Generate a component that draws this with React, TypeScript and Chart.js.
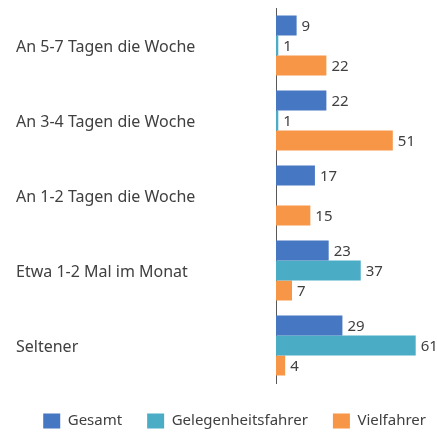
import React, { useEffect, useRef } from "react";
import { Chart, registerables } from "chart.js";

Chart.register(...registerables);

const categories = [
  "An 5-7 Tagen die Woche",
  "An 3-4 Tagen die Woche",
  "An 1-2 Tagen die Woche",
  "Etwa 1-2 Mal im Monat",
  "Seltener",
];
const seriesNames = ["Gesamt", "Gelegenheitsfahrer", "Vielfahrer"];
const gesamt = [9, 22, 17, 23, 29];
const gelegenheitsfahrer: (number | null)[] = [1, 1, null, 37, 61];
const vielfahrer = [22, 51, 15, 7, 4];
const colors = ["#4677C2", "#4BACC6", "#F79646"];

const FONT = "'Noto Sans', 'Open Sans', sans-serif";
const TEXT = "#404040";

const valueLabels = {
  id: "valueLabels",
  afterDatasetsDraw(chart: any) {
    const ctx = chart.ctx;
    ctx.save();
    ctx.font = `15px ${FONT}`;
    ctx.fillStyle = TEXT;
    ctx.textAlign = "left";
    ctx.textBaseline = "middle";
    chart.data.datasets.forEach((ds: any, i: number) => {
      const meta = chart.getDatasetMeta(i);
      meta.data.forEach((el: any, j: number) => {
        const v = ds.data[j];
        if (v === null || v === undefined) return;
        ctx.fillText(String(v), el.x + 5, el.y + 1);
      });
    });
    ctx.restore();
  },
};

export default function App() {
  const ref = useRef<HTMLCanvasElement>(null);
  useEffect(() => {
    if (!ref.current) return;
    const chart = new Chart(ref.current, {
      type: "bar",
      data: {
        labels: categories,
        datasets: [gesamt, gelegenheitsfahrer, vielfahrer].map((d, i) => ({
          label: seriesNames[i],
          data: d as any,
          backgroundColor: colors[i],
          borderWidth: 0,
          categoryPercentage: 0.8,
          barPercentage: 1.0,
        })),
      },
      options: {
        indexAxis: "y",
        animation: false,
        responsive: false,
        layout: { padding: { left: 16, right: -14, top: 8, bottom: -3.5 } },
        scales: {
          x: {
            display: true,
            min: 0,
            max: 70.3,
            grid: { display: false },
            border: { display: false },
            ticks: { display: false },
            afterFit: (s: any) => {
              s.height = 5.5;
            },
          },
          y: {
            grid: { display: false },
            border: { display: true, color: "#595959", width: 1 },
            ticks: {
              crossAlign: "far",
              color: TEXT,
              labelOffset: 2,
              font: { family: FONT, size: 16 },
            },
            afterFit: (s: any) => {
              s.width = 260;
              s.paddingTop = 0;
              s.paddingBottom = 0;
            },
          },
        },
        plugins: {
          legend: {
            position: "bottom",
            align: "end",
            labels: {
              color: TEXT,
              font: { family: FONT, size: 15 },
              boxWidth: 17,
              boxHeight: 15,
              padding: 25,
            },
          },
          tooltip: { enabled: false },
        },
      },
      plugins: [valueLabels],
    });
    return () => chart.destroy();
  }, []);
  return (
    <div style={{ position: "absolute", left: 0, top: 0, width: 437, height: 435, background: "#fff" }}>
      <canvas ref={ref} width={437} height={435} style={{ display: "block" }} />
    </div>
  );
}
